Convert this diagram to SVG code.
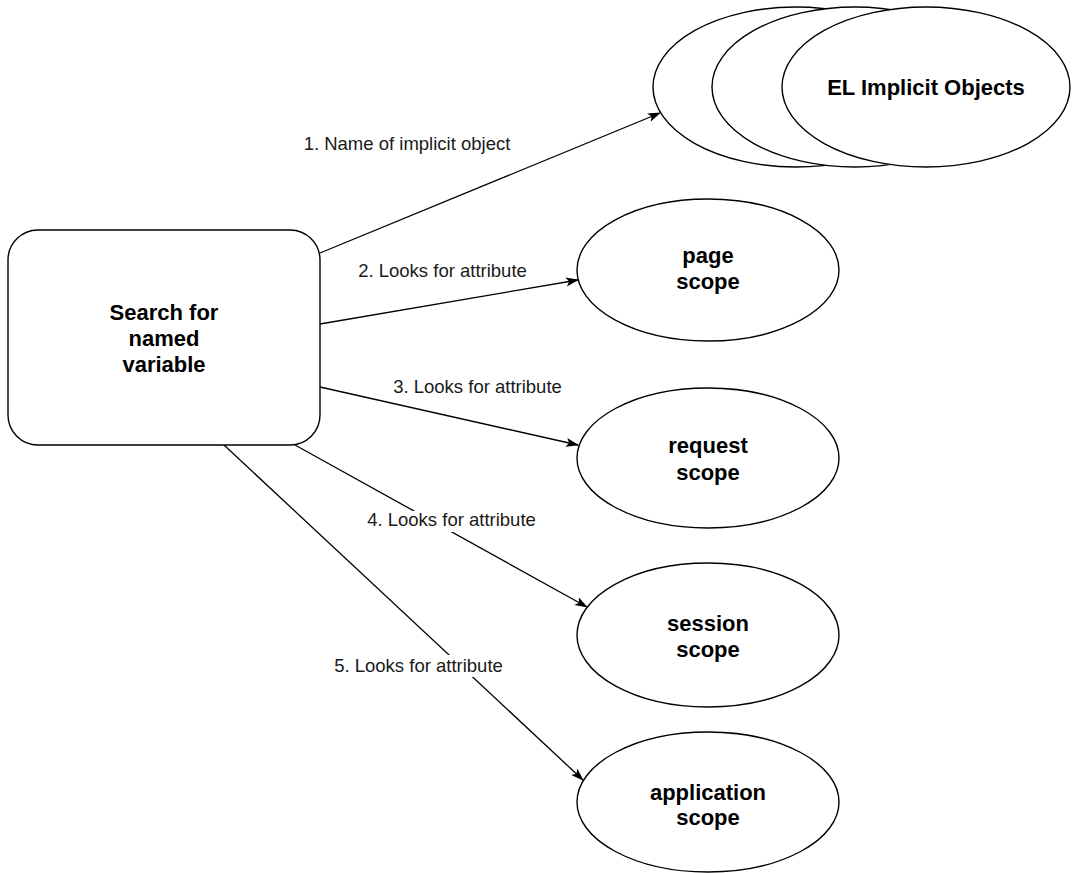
<svg xmlns="http://www.w3.org/2000/svg" width="1073" height="873" viewBox="0 0 1073 873">
<style>
.shape{fill:#fff;stroke:#000;stroke-width:1.4}
.edge{fill:none;stroke:#000;stroke-width:1.3}
.node{font-family:"Liberation Sans",Arial,sans-serif;font-weight:bold;font-size:22px;fill:#000;text-anchor:middle}
.lbl{font-family:"Liberation Sans",Arial,sans-serif;font-size:18.5px;fill:#1a1a1a;text-anchor:middle}
</style>
<defs>
<marker id="arr" viewBox="0 0 13 10" refX="12" refY="5" markerWidth="13" markerHeight="10" markerUnits="userSpaceOnUse" orient="auto">
<path d="M0,0.5 L13,5 L0,9.5 L3,5 Z" fill="#000"/>
</marker>
</defs>
<rect width="1073" height="873" fill="#fff"/>
<g id="connectors">
<line class="edge" x1="320" y1="253" x2="660" y2="113" marker-end="url(#arr)"/>
<line class="edge" x1="320" y1="324" x2="578" y2="280" marker-end="url(#arr)"/>
<line class="edge" x1="320" y1="387" x2="578" y2="445" marker-end="url(#arr)"/>
<line class="edge" x1="295" y1="445" x2="587" y2="607" marker-end="url(#arr)"/>
<line class="edge" x1="224" y1="445" x2="583" y2="780" marker-end="url(#arr)"/>
<g id="edge-labels">
<text class="lbl" x="407" y="150">1. Name of implicit object</text>
<text class="lbl" x="442.5" y="277">2. Looks for attribute</text>
<text class="lbl" x="477.5" y="393">3. Looks for attribute</text>
<rect x="366" y="511" width="172" height="21" fill="#fff"/>
<text class="lbl" x="451.5" y="526">4. Looks for attribute</text>
<rect x="333" y="655" width="172" height="22" fill="#fff"/>
<text class="lbl" x="418.5" y="672">5. Looks for attribute</text>
</g>
</g>
<g id="search">
<rect class="shape" x="8" y="230" width="312" height="215" rx="30" ry="30"/>
<text class="node" x="164" y="320">Search for</text>
<text class="node" x="164" y="346">named</text>
<text class="node" x="164" y="372">variable</text>
</g>
<g id="implicit-objects">
<ellipse class="shape" cx="796" cy="87" rx="143" ry="80"/>
<ellipse class="shape" cx="855" cy="87" rx="143" ry="80"/>
<ellipse class="shape" cx="926" cy="87" rx="144" ry="80"/>
<text class="node" x="926" y="95">EL Implicit Objects</text>
</g>
<g id="page">
<ellipse class="shape" cx="708" cy="270" rx="131" ry="71"/>
<text class="node" x="708" y="263">page</text>
<text class="node" x="708" y="289">scope</text>
</g>
<g id="request">
<ellipse class="shape" cx="708" cy="458" rx="131" ry="70"/>
<text class="node" x="708" y="453">request</text>
<text class="node" x="708" y="480">scope</text>
</g>
<g id="session">
<ellipse class="shape" cx="708" cy="635" rx="131" ry="72"/>
<text class="node" x="708" y="631">session</text>
<text class="node" x="708" y="657">scope</text>
</g>
<g id="application">
<ellipse class="shape" cx="708" cy="802" rx="131" ry="70"/>
<text class="node" x="708" y="800">application</text>
<text class="node" x="708" y="825">scope</text>
</g>
</svg>
